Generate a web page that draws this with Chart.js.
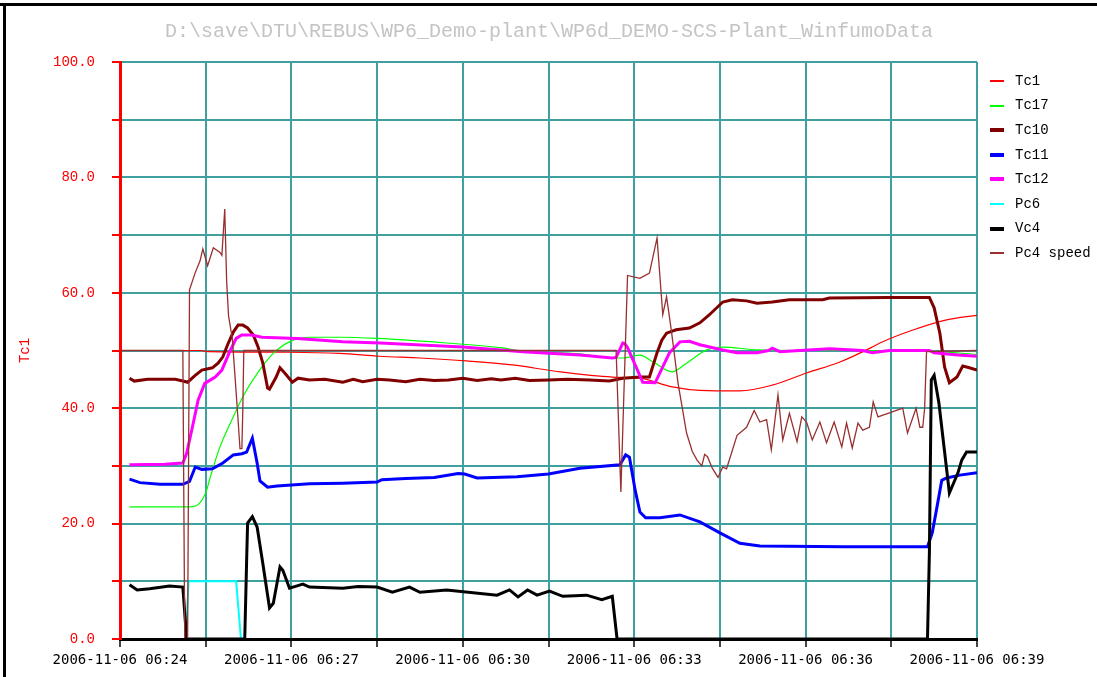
<!DOCTYPE html>
<html><head><meta charset="utf-8">
<script src="https://cdn.jsdelivr.net/npm/chart.js@4.4.1/dist/chart.umd.min.js"></script>
<style>html,body{margin:0;padding:0;background:#fff;}canvas{display:block;}</style>
</head><body>
<canvas id="c" width="1097" height="677"></canvas>
<script>
// ---- texts ----
const chartTitle = 'D:\\save\\DTU\\REBUS\\WP6_Demo-plant\\WP6d_DEMO-SCS-Plant_WinfumoData';
const datePrefix = '2006-11-06';
const axisTitle = 'Tc1';
const startHour = 6, startMinute = 24;   // x values: seconds after 06:24:00
const xMax = 900;
const seriesNames = ['Tc1', 'Tc17', 'Tc10', 'Tc11', 'Tc12', 'Pc6', 'Vc4', 'Pc4 speed'];

// ---- data: [seconds after 06:24:00, value] ----
const tc1 = [[10,50.0],[84,50.0],[94,49.8],[178,49.7],[231,49.5],[273,49.0],[315,48.7],[364,48.2],[412,47.5],[462,46.3],[517,45.4],[546,45.2],[580,43.7],[609,43.1],[651,43.0],[685,44.0],[721,46.1],[756,48.0],[790,50.6],[798,51.3],[832,53.5],[868,55.3],[900,56.1]];
const tc17 = [[10,22.9],[73,22.9],[84,23.6],[91,25.8],[94,27.6],[105,33.3],[119,38.5],[129,42.0],[144,46.0],[161,49.5],[178,51.5],[199,52.3],[234,52.3],[270,52.1],[343,51.3],[399,50.5],[423,49.9],[483,49.4],[517,48.7],[528,48.7],[546,49.2],[560,48.0],[580,46.3],[595,47.8],[616,50.1],[633,50.6],[669,50.1],[714,50.0],[808,50.0],[861,49.8],[900,49.3]];
const tc10 = [[10,45.2],[15,44.7],[29,45.0],[58,45.0],[66,44.7],[71,44.5],[79,45.7],[86,46.6],[97,47.0],[103,47.8],[108,48.9],[113,51.0],[119,53.2],[124,54.4],[129,54.4],[134,53.9],[140,52.7],[145,50.6],[150,47.8],[155,43.5],[157,43.3],[164,45.4],[168,47.0],[173,46.1],[181,44.5],[187,45.2],[199,44.9],[215,45.0],[234,44.5],[245,45.0],[255,44.6],[270,45.0],[283,44.9],[300,44.6],[315,45.0],[330,44.8],[345,44.9],[360,45.2],[375,44.8],[390,45.1],[400,44.9],[415,45.2],[430,44.8],[450,44.9],[470,45.0],[493,44.9],[514,44.7],[528,45.2],[546,45.4],[556,45.4],[564,49.6],[569,51.8],[574,53.0],[584,53.6],[598,53.9],[609,54.8],[619,56.2],[633,58.4],[643,58.8],[658,58.6],[669,58.2],[685,58.4],[703,58.8],[738,58.8],[745,59.1],[808,59.2],[850,59.2],[855,57.4],[861,53.0],[866,47.1],[871,44.4],[879,45.4],[885,47.3],[892,47.0],[900,46.6]];
const tc11 = [[10,27.7],[21,27.1],[42,26.8],[66,26.8],[73,27.3],[79,29.8],[86,29.4],[97,29.5],[108,30.5],[119,31.9],[128,32.1],[133,32.4],[139,34.8],[144,30.5],[147,27.4],[155,26.3],[165,26.5],[199,26.9],[234,27.0],[270,27.2],[275,27.6],[300,27.8],[330,28.0],[355,28.7],[362,28.6],[375,27.9],[417,28.1],[450,28.6],[483,29.6],[525,30.2],[531,31.9],[535,31.5],[541,25.8],[546,22.0],[552,21.0],[567,21.0],[588,21.5],[609,20.3],[630,18.4],[651,16.6],[672,16.1],[760,16.0],[848,16.0],[853,18.4],[858,22.9],[863,27.5],[868,27.9],[882,28.4],[900,28.8]];
const tc12 = [[10,30.2],[47,30.3],[66,30.5],[70,32.2],[76,36.7],[82,41.4],[89,44.3],[100,45.4],[107,46.6],[115,49.7],[122,52.1],[128,52.7],[138,52.7],[149,52.3],[186,52.1],[234,51.5],[273,51.3],[360,50.6],[423,49.8],[483,49.2],[517,48.7],[521,48.8],[528,51.3],[530,51.2],[533,50.5],[541,47.5],[549,44.5],[562,44.4],[577,49.6],[588,51.5],[598,51.6],[609,51.0],[633,50.1],[648,49.6],[669,49.6],[681,50.0],[685,50.4],[693,49.8],[714,50.0],[745,50.3],[780,50.0],[790,49.6],[808,50.0],[850,50.0],[855,49.6],[880,49.2],[900,49.0]];
const pc6 = [[10,0],[69,0],[72,10],[122,10],[127,0],[900,0]];
const vc4 = [[10,9.4],[18,8.5],[31,8.7],[52,9.2],[66,9.0],[70,0],[131,0],[133,13.7],[134,20.1],[139,21.2],[144,19.4],[150,13.1],[157,5.4],[161,6.2],[168,12.5],[171,11.9],[178,8.8],[186,9.2],[192,9.5],[199,9.0],[220,8.9],[234,8.8],[250,9.1],[270,9.0],[286,8.1],[304,9.0],[315,8.1],[343,8.5],[396,7.6],[409,8.5],[418,7.3],[428,8.5],[438,7.6],[451,8.3],[465,7.4],[490,7.6],[506,6.8],[517,7.4],[522,0],[848,0],[850,15],[851,30],[852,44.9],[855,45.7],[860,40.9],[871,25.3],[880,28.8],[884,31.0],[889,32.4],[900,32.4]];
const pc4speed = [[0,50],[66,50],[68,0],[71,0],[73,60.5],[79,63.5],[84,65.5],[87,67.6],[92,64.7],[98,67.8],[105,67.0],[107,66.5],[110,74.5],[112,62],[114,56],[118,52],[121,45],[124,38],[126,33],[128,33],[129,40],[130,50],[521,50],[526,25.5],[533,63],[546,62.5],[556,63.4],[564,69.5],[570,56.2],[574,59.3],[579,53.5],[586,44.4],[595,35.7],[601,32.5],[606,31],[611,30],[614,32],[617,31.6],[622,29.6],[628,28],[633,29.8],[637,29.5],[648,35.3],[658,36.7],[666,39.6],[672,37.6],[679,38],[684,32.8],[691,42.3],[696,34.5],[703,39.1],[711,34.2],[716,38.5],[721,37.6],[727,34.5],[735,37.6],[742,34],[750,37.6],[758,33.3],[763,37.4],[769,33.1],[775,37.4],[780,36.2],[787,36.7],[791,41.1],[796,38.5],[808,39.2],[822,40],[827,35.7],[836,40],[840,36.7],[843,36.7],[845,40],[847,49.8],[900,50]];

const seriesData = [tc1, tc17, tc10, tc11, tc12, pc6, vc4, pc4speed];
const seriesColors = ['#ff0000', '#00ff00', '#800000', '#0000ff', '#ff00ff', '#00ffff', '#000000', '#983030'];
const seriesWidths = [1.2, 1.2, 3, 3, 3, 2, 3, 1.3];
const smooth = [true, true, false, false, false, false, false, false];

const GRID = '#40a0a0';
const MONO = '"Liberation Mono", "Courier New", monospace';

function pad2(n) { return String(n).padStart(2, '0'); }
function timeLabel(sec) {
  const m = startHour * 60 + startMinute + Math.round(sec / 60);
  return datePrefix + ' ' + pad2(Math.floor(m / 60)) + ':' + pad2(m % 60);
}

const datasets = seriesNames.map((name, i) => ({
  label: name,
  data: seriesData[i].map(p => ({x: p[0], y: p[1]})),
  borderColor: seriesColors[i],
  backgroundColor: seriesColors[i],
  borderWidth: seriesWidths[i],
  pointRadius: 0,
  fill: false,
  tension: 0,
  cubicInterpolationMode: smooth[i] ? 'monotone' : 'default',
  order: seriesNames.length - i
}));

const decor = {
  id: 'decor',
  beforeDraw(chart) {
    const ctx = chart.ctx;
    ctx.save();
    ctx.fillStyle = '#fff';
    ctx.fillRect(0, 0, chart.width, chart.height);
    ctx.fillStyle = '#000';
    ctx.fillRect(0, 3, chart.width, 3);
    ctx.fillRect(3, 3, 3, chart.height);
    ctx.font = '20px ' + MONO;
    ctx.fillStyle = '#c4c4c4';
    ctx.textAlign = 'center';
    ctx.textBaseline = 'middle';
    ctx.fillText(chartTitle, 549, 32);
    ctx.restore();
  },
  afterDraw(chart) {
    const ctx = chart.ctx;
    ctx.save();
    ctx.font = '14px ' + MONO;
    ctx.textAlign = 'left';
    ctx.textBaseline = 'middle';
    chart.data.datasets.forEach((ds, i) => {
      const y = 81 + i * 24.6;
      ctx.fillStyle = ds.borderColor;
      const h = ds.borderWidth >= 3 ? 4 : 2;
      ctx.fillRect(990, Math.round(y - h / 2), 14, h);
      ctx.fillStyle = '#000';
      ctx.fillText(ds.label, 1015, y);
    });
    ctx.restore();
  }
};

new Chart(document.getElementById('c'), {
  type: 'line',
  data: { datasets },
  options: {
    responsive: false,
    animation: false,
    devicePixelRatio: 1,
    layout: { padding: { top: 62, right: 120, bottom: 0, left: 0 } },
    plugins: { legend: { display: false }, tooltip: { enabled: false }, title: { display: false } },
    scales: {
      x: {
        type: 'linear', min: 0, max: xMax,
        afterFit(s) { s.height = 38; },
        grid: { color: GRID, lineWidth: 2, tickColor: '#444', tickLength: 8 },
        border: { color: '#000', width: 3, z: 1 },
        ticks: {
          stepSize: 90, autoSkip: false, maxRotation: 0, minRotation: 0, padding: 5,
          color: '#000', font: { family: '"DejaVu Sans Mono", monospace', size: 14 },
          callback: v => (v % 180 === 0 ? timeLabel(v) : '')
        }
      },
      y: {
        min: 0, max: 100,
        afterFit(s) { s.width = 120; },
        grid: { color: GRID, lineWidth: 2, tickColor: '#ff0000', tickLength: 8 },
        border: { color: '#ff0000', width: 3, z: 1 },
        title: { display: true, text: axisTitle, color: '#ff0000', font: { family: MONO, size: 14 }, padding: { top: 17, bottom: 0 } },
        ticks: {
          stepSize: 10, autoSkip: false, padding: 17, color: '#ff0000',
          font: { family: MONO, size: 14 },
          callback: v => (v % 20 === 0 ? v.toFixed(1) : '')
        }
      }
    }
  },
  plugins: [decor]
});
</script>
</body></html>
